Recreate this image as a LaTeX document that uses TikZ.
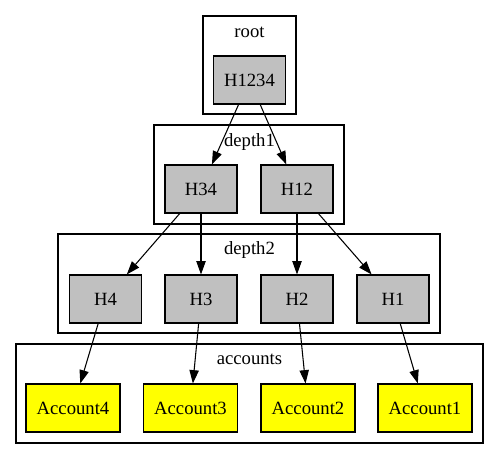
\documentclass[tikz,border=0pt]{standalone}
\usepackage{fontspec}
\setmainfont{Liberation Serif}
\usetikzlibrary{arrows.meta}
\definecolor{gvgray}{HTML}{C0C0C0}
\definecolor{gvyellow}{HTML}{FFFF00}
\tikzset{
  cluster/.style={draw=black, line width=1pt},
  clabel/.style={inner sep=0pt, font=\fontsize{14pt}{16pt}\selectfont},
  hashbox/.style={draw=black, line width=0.8pt, fill=gvgray, minimum width=54pt, minimum height=36pt, inner sep=0pt, font=\fontsize{14pt}{16pt}\selectfont},
  acctbox/.style={draw=black, line width=0.8pt, fill=gvyellow, minimum width=70.5pt, minimum height=36pt, inner sep=0pt, font=\fontsize{14pt}{16pt}\selectfont},
  edge/.style={draw=black, line width=0.8pt, -{Triangle[length=10pt,width=7pt]}}
}
\begin{document}
\begin{tikzpicture}[x=0.75pt,y=-0.75pt]
\useasboundingbox[fill=white] (0,0) rectangle (499,459);
% clusters
\draw[cluster] (203,16) rectangle (296,114);
\draw[cluster] (154,125) rectangle (344,224);
\draw[cluster] (58,234) rectangle (440,333);
\draw[cluster] (16,344) rectangle (483,443);
\node[clabel] (lroot) at (249.5,32) {root};
\node[clabel] (ldepth1) at (249.5,142) {depth1};
\node[clabel] (ldepth2) at (249.5,250) {depth2};
\node[clabel] (laccounts) at (249.5,359) {accounts};
% nodes
\node[hashbox] (H1234) at (249.5,80) {H1234};
\node[hashbox] (H34) at (201,189) {H34};
\node[hashbox] (H12) at (297,189) {H12};
\node[hashbox] (H4) at (105.5,299) {H4};
\node[hashbox] (H3) at (201,299) {H3};
\node[hashbox] (H2) at (297,299) {H2};
\node[hashbox] (H1) at (393,299) {H1};
\node[acctbox] (A4) at (73,408) {Account4};
\node[acctbox] (A3) at (190.5,408) {Account3};
\node[acctbox] (A2) at (308,408) {Account2};
\node[acctbox] (A1) at (425,408) {Account1};
% edges
\draw[edge] (H1234) -- (H34);
\draw[edge] (H1234) -- (H12);
\draw[edge] (H34) -- (H4);
\draw[edge] (H34) -- (H3);
\draw[edge] (H12) -- (H2);
\draw[edge] (H12) -- (H1);
\draw[edge] (H4) -- (A4);
\draw[edge] (H3) -- (A3);
\draw[edge] (H2) -- (A2);
\draw[edge] (H1) -- (A1);
\end{tikzpicture}
\end{document}
